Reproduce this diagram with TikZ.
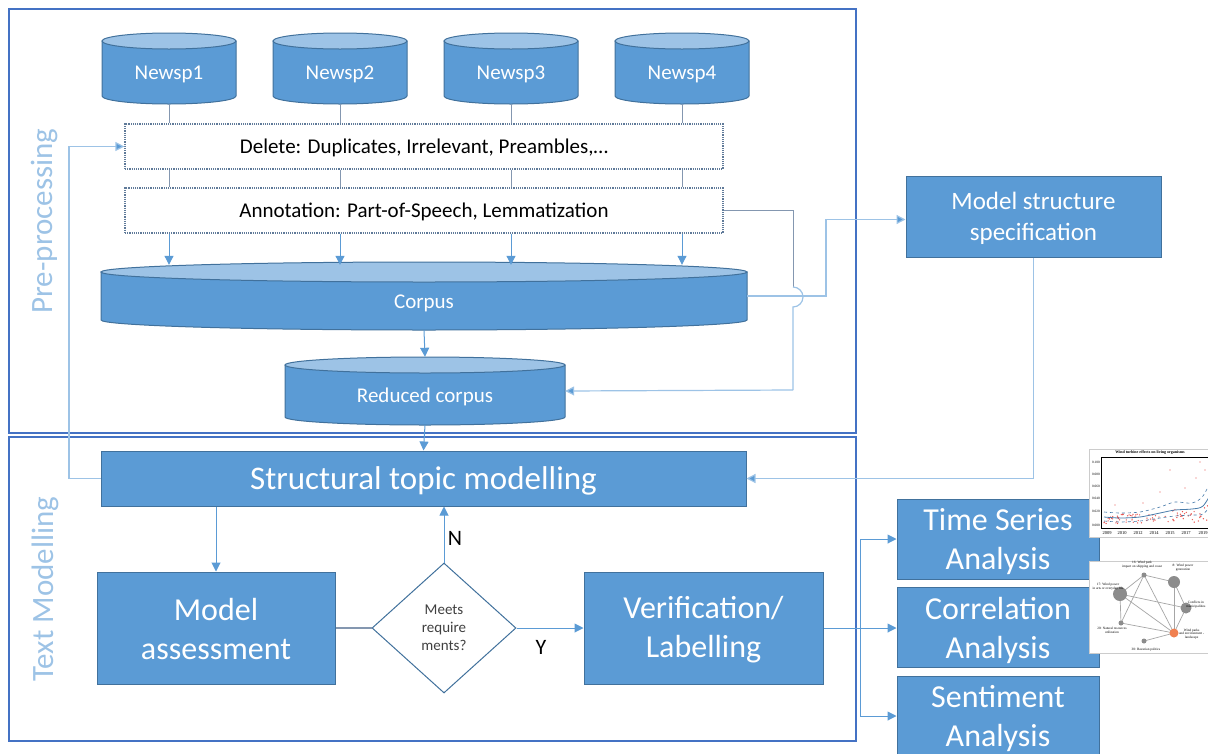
\documentclass[tikz,border=0pt]{standalone}
\usepackage{fontspec}
\setmainfont{Carlito}
\newfontfamily\thumbfont{Liberation Serif}
\usetikzlibrary{arrows.meta,shapes.geometric}
\definecolor{boxfill}{HTML}{5B9BD5}
\definecolor{boxborder}{HTML}{41719C}
\definecolor{topfill}{HTML}{9DC3E6}
\definecolor{framec}{HTML}{4472C4}
\definecolor{labelc}{HTML}{9DC3E6}
\definecolor{conn}{HTML}{5B9BD5}
\definecolor{connlight}{HTML}{9DC3E6}
\definecolor{conngray}{HTML}{8497B0}
\definecolor{dotc}{HTML}{5F7A99}
\definecolor{diatext}{HTML}{404040}
\definecolor{dotred}{HTML}{E8534F}
\definecolor{nodeorange}{HTML}{F08050}
\newcommand{\mycyl}[7]{%
  \filldraw[cylbody] ({#2-#5},{#3+#6}) -- ({#2-#5},{#4-#6})
     arc[start angle=180,end angle=360,x radius=#5pt,y radius=#6pt]
     -- ({#2+#5},{#3+#6}) -- cycle;
  \filldraw[cyltop] (#2,{#3+#6}) ellipse[x radius=#5pt, y radius=#6pt];
  \node[inner sep=0, minimum width={2*#5pt}, minimum height={(#4-#3)*1pt}] (#1) at (#2,{(#3+#4)/2}) {};
  \node[cyltext] (#1-t) at (#2,{(#3+#4)/2+#6/2+2}) {#7};
}
\begin{document}
\begin{tikzpicture}[x=1pt,y=-1pt,
  cylbody/.style={draw=boxborder, fill=boxfill, line width=1pt},
  cyltop/.style={draw=boxborder, fill=topfill, line width=1pt},
  cyltext/.style={text=white, inner sep=0, font=\fontsize{21}{25}\selectfont},
  frame/.style={draw=framec, line width=1.5pt},
  sidelabel/.style={rotate=90, text=labelc, inner sep=0, font=\fontsize{31}{31}\selectfont},
  box/.style={draw=boxborder, fill=boxfill, line width=1pt, inner sep=0},
  boxtext/.style={text=white, align=center, inner sep=0},
  dotbox/.style={draw=dotc, densely dotted, line width=1.2pt, fill=white, inner sep=0,
     minimum width=598pt, minimum height=45pt},
  dottext/.style={text=black, inner sep=0, font=\fontsize{21}{25}\selectfont},
  tip/.style={-{Triangle[length=9pt,width=9pt]}},
  ltip/.style={-{Triangle[length=9pt,width=9pt,fill=conn]}},
  lgray/.style={draw=conngray, line width=1pt},
  lblue/.style={draw=conn, line width=1pt},
  llight/.style={draw=connlight, line width=1.2pt},
  yn/.style={text=black, inner sep=0, font=\fontsize{22}{22}\selectfont},
  tiny/.style={inner sep=0, align=center, font=\thumbfont\fontsize{3.4}{3.8}\selectfont}
]
\useasboundingbox (0,0) rectangle (1208,753);
\clip (0,0) rectangle (1208,753);

% frames
\draw[frame] (9,9) rectangle (856,433);
\draw[frame] (9,437) rectangle (856,741);
\node[sidelabel] (lpre) at (45,221) {Pre-processing};
\node[sidelabel] (ltm) at (45,589) {Text Modelling};

% newspaper cylinders
\mycyl{n1}{169}{33}{104}{67}{8}{Newsp1}
\mycyl{n2}{340}{33}{104}{67}{8}{Newsp2}
\mycyl{n3}{511}{33}{104}{67}{8}{Newsp3}
\mycyl{n4}{682}{33}{104}{67}{8}{Newsp4}

% dotted boxes
\node[dotbox] (del) at (424,146.5) {};
\node[dottext] (del-t) at ([yshift=-1.5pt]del.center) {Delete: Duplicates, Irrelevant, Preambles,…};
\node[dotbox] (ann) at (424,210.5) {};
\node[dottext] (ann-t) at ([yshift=-1.5pt]ann.center) {Annotation: Part-of-Speech, Lemmatization};

% corpus cylinders
\mycyl{corpus}{424}{262}{330}{323}{10}{Corpus}
\mycyl{rc}{425}{357}{425}{140}{8}{Reduced corpus}

% boxes
\node[box, minimum width=255pt, minimum height=81pt] (mss) at (1033.5,216.5) {};
\node[boxtext, font=\fontsize{25}{31}\selectfont] (mss-t) at ([yshift=-2pt]mss.center) {Model structure\\specification};
\node[box, minimum width=645pt, minimum height=55pt] (stm) at (423.5,478.5) {};
\node[boxtext, font=\fontsize{33}{36}\selectfont] (stm-t) at ([yshift=-2pt]stm.center) {Structural topic modelling};
\node[box, minimum width=238pt, minimum height=112pt] (ma) at (216,628) {};
\node[boxtext, font=\fontsize{32}{39}\selectfont] (ma-t) at ([yshift=-1pt]ma.center) {Model\\assessment};
\node[box, minimum width=239pt, minimum height=112pt] (ver) at (703.5,628) {};
\node[boxtext, font=\fontsize{32}{39}\selectfont] (ver-t) at ([yshift=-2pt]ver.center) {Verification/\\Labelling};
\node[draw=boxborder, line width=1pt, fill=white, diamond, minimum width=144pt, minimum height=130pt, inner sep=0,
      align=center, text=diatext, font=\fontsize{15}{18}\selectfont] (dia) at (444,628) {Meets\\require\\ments?};
\node[box, minimum width=202pt, minimum height=80pt] (ts) at (998,539) {};
\node[boxtext, font=\fontsize{32}{39}\selectfont] (ts-t) at ([yshift=-3pt]ts.center) {Time Series\\Analysis};
\node[box, minimum width=202pt, minimum height=80pt] (corr) at (998,627) {};
\node[boxtext, font=\fontsize{32}{39}\selectfont] (corr-t) at ([yshift=-3pt]corr.center) {Correlation\\Analysis};
\node[box, minimum width=202pt, minimum height=80pt] (sent) at (998,716) {};
\node[boxtext, font=\fontsize{32}{39}\selectfont] (sent-t) at ([yshift=-3pt]sent.center) {Sentiment\\Analysis};

% connectors: newspapers -> delete -> annotation -> corpus
\foreach \n in {n1,n2,n3,n4}{
  \draw[lgray] (\n.south) -- (\n.south |- del.north);
  \draw[lgray] (\n.south |- del.south) -- (\n.south |- ann.north);
  \draw[lblue, tip] (\n.south |- ann.south) -- ([yshift=-3pt]\n.south |- corpus.north);
}
\draw[lblue, tip] (corpus.south) -- (rc.north);
\draw[lblue, tip] (rc.south) -- (stm.north);

% annotation -> reduced corpus, with hop over corpus line
\draw[lgray] (ann.east) -- (793,210.5) -- (793,287);
\draw[llight] (793,287) arc[start angle=90, end angle=-90, radius=10pt] -- (793,390);
\draw[llight, ltip] (793,390) -- (rc.east);

% corpus -> model structure specification
\draw[llight, ltip] (corpus.east) -- (826,296) |- ([yshift=-3pt]mss.west);

% model structure -> STM
\draw[llight, ltip] (mss.south) |- (stm.east);

% STM -> delete (loop back)
\draw[llight, ltip] (stm.west) -- (69,478.5) |- (del.west);

% STM -> model assessment
\draw[lblue, tip] (ma.north |- stm.south) -- (ma.north);
% model assessment -> diamond
\draw[draw=conngray, line width=1.2pt] (ma.east) -- (dia.west);
% diamond -> STM (N)
\draw[lblue, tip] (dia.north) -- (dia.north |- stm.south);
\node[yn] (nlab) at (455,538) {N};
% diamond -> verification (Y)
\draw[lblue, tip] (dia.east) -- (ver.west);
\node[yn] (ylab) at (541,647) {Y};

% verification -> analyses
\coordinate (br) at (860,628);
\draw[lblue] (ver.east) -- (br);
\draw[lblue, tip] (br) |- (ts.west);
\draw[lblue, tip] (br) -- (corr.west |- br);
\draw[lblue, tip] (br) |- (sent.west);

% thumbnail: time series plot
\node[draw=black!20, fill=white, minimum width=122pt, minimum height=88pt, inner sep=0] (plot) at (1150,493) {};
\draw[black, line width=0.5pt] (1101,457) rectangle (1214,528);
\node[tiny, font=\thumbfont\bfseries\fontsize{4}{4}\selectfont] (ptitle) at (1150,453) {Wind turbine effects on living organisms};
\foreach \yy/\lab in {462/0.100,474/0.080,486/0.060,498/0.040,511/0.020,525/0.000}{
  \node[tiny, anchor=east] at (1100,\yy) {\lab};
}
\foreach \xx/\lab in {1107/2009,1122/2010,1138/2012,1154/2014,1170/2015,1186/2017,1203/2019}{
  \node[tiny, font=\thumbfont\fontsize{4.5}{5}\selectfont] at (\xx,533) {\lab};
}
\pgfmathsetseed{7}
\foreach \i in {1,...,90}{
  \pgfmathsetmacro{\px}{1104+108*rnd}
  \pgfmathsetmacro{\py}{524-10*rnd-14*rnd*((\px-1104)/108)^2}
  \fill[dotred] (\px,\py) circle[radius=0.7pt];
}
\foreach \px/\py in {1170/470,1200/462,1185/488,1196/478,1160/492,1205/470,1143/503,1115/505}{
  \fill[dotred] (\px,\py) circle[radius=0.7pt];
}
\draw[conn!80!black, line width=0.8pt] plot[smooth] coordinates {(1104,517) (1120,518) (1140,517) (1160,513) (1175,510) (1192,509) (1203,506) (1213,490)};
\draw[conn!80!black, line width=0.6pt, dashed] plot[smooth] coordinates {(1104,512) (1120,513) (1140,512) (1160,507) (1175,502) (1192,503) (1203,496) (1213,476)};
\draw[conn!80!black, line width=0.6pt, dashed] plot[smooth] coordinates {(1104,521) (1120,522) (1140,521) (1160,518) (1175,516) (1192,515) (1203,514) (1213,503)};

% thumbnail: correlation network
\node[draw=black!20, fill=white, minimum width=122pt, minimum height=92pt, inner sep=0] (net) at (1150,607) {};
\coordinate (a) at (1144,575);
\coordinate (b) at (1174,582);
\coordinate (c) at (1120,594);
\coordinate (d) at (1186,608);
\coordinate (e) at (1121,623);
\coordinate (f) at (1174,633);
\coordinate (g) at (1144,641);
\foreach \u/\v in {a/b,a/c,a/f,a/e,b/f,c/f,c/e,c/d,e/f,d/f,g/f,b/d}{
  \draw[black!35, line width=0.7pt] (\u) -- (\v);
}
\fill[black!45] (a) circle[radius=2.5pt];
\fill[black!45] (b) circle[radius=6pt];
\fill[black!45] (c) circle[radius=7pt];
\fill[black!45] (d) circle[radius=5.5pt];
\fill[black!45] (e) circle[radius=2.5pt];
\fill[nodeorange] (f) circle[radius=4.5pt];
\fill[black!45] (g) circle[radius=2.5pt];
\node[tiny] (t16) at (1142,565) {16: Wind park\\impact on shipping and coast};
\node[tiny] (t8) at (1183,568) {8: Wind power\\generation};
\node[tiny] (t17) at (1108,587) {17: Wind power\\in arts or everyday life};
\node[tiny, anchor=west] (tcf) at (1186,605) {Conflicts in\\municipalities};
\node[tiny] (t20) at (1112,630) {20: Natural resources\\utilization};
\node[tiny, anchor=west] (twp) at (1179,634) {Wind parks\\and environment -\\landscape};
\node[tiny] (t30) at (1146,650) {30: Bavarian politics};
\end{tikzpicture}
\end{document}
